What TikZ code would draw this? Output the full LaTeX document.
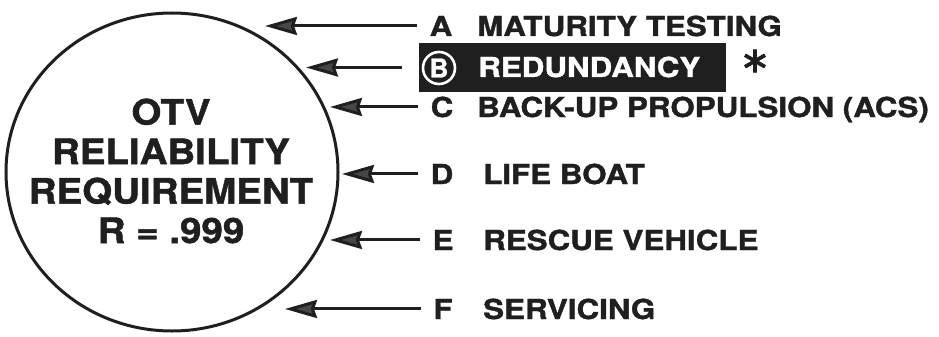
\documentclass[tikz,border=0pt]{standalone}
\usepackage{fontspec}
\setmainfont{TeX Gyre Heros}[BoldFeatures={FakeBold=1.2}]
\newfontfamily\astfont{DejaVu Sans}[FakeBold=2]
\usetikzlibrary{arrows.meta,shapes.geometric}
\definecolor{ink}{gray}{0.12}
\definecolor{headfill}{gray}{0.28}
\newcommand{\wide}[1]{\scalebox{1.14}[1]{#1}}
\newcommand{\widebig}[1]{\scalebox{1.1}[1]{#1}}
\begin{document}
\begin{tikzpicture}[x=1pt,y=-1pt,
  lbl/.style={anchor=base west,inner sep=0pt,text=ink,font=\fontsize{27.5}{30}\selectfont\bfseries},
  letter/.style={anchor=base,inner xsep=12pt,inner ysep=0pt,text=ink,font=\fontsize{27.5}{30}\selectfont\bfseries},
  arr/.style={draw=ink,line width=3pt,-{Stealth[length=32pt,width=18pt,inset=3pt,fill=headfill]}}]
\useasboundingbox (0,0) rectangle (939,337);
% central ellipse
\node[ellipse,draw=ink,line width=3pt,minimum width=332pt,minimum height=318pt,inner sep=0pt] (req) at (172,172) {};
\node[align=center,text=ink,inner sep=0pt,font=\fontsize{35}{39.5}\selectfont\bfseries] (reqtext) at (171,171)
  {\widebig{OTV}\\\widebig{RELIABILITY}\\\widebig{REQUIREMENT}\\\widebig{R = .999}};
% tip coordinates
\coordinate (tipA) at (265,0);
\coordinate (tipB) at (306,0);
\coordinate (tipC) at (330,0);
\coordinate (tipD) at (342,0);
\coordinate (tipE) at (330,0);
\coordinate (tipF) at (285,0);
% row A
\node[letter] (la) at (441,36) {\wide{A}};
\node[lbl] (ta) at (477,36) {\wide{MATURITY TESTING}};
% row B (highlighted)
\node[fill=ink,minimum width=307pt,minimum height=49pt,inner sep=0pt] (box) at (572.5,67.5) {};
\node[circle,draw=white,line width=2.6pt,minimum size=32pt,inner sep=0pt,text=white,font=\fontsize{26}{26}\selectfont\bfseries] (lb) at (439,68) {B};
\node[lbl,text=white] (tb) at (478,77) {\wide{REDUNDANCY}};
\node[text=ink,inner sep=0pt,font=\fontsize{36}{36}\astfont] (ast) at (755,61) {∗};
% row C
\node[letter] (lc) at (442,117) {\wide{C}};
\node[lbl] (tc) at (477,117) {\wide{BACK-UP PROPULSION (ACS)}};
% row D
\node[letter] (ld) at (442,184) {\wide{D}};
\node[lbl] (td) at (483,184) {\wide{LIFE BOAT}};
% row E
\node[letter] (le) at (443,250) {\wide{E}};
\node[lbl] (te) at (483,250) {\wide{RESCUE VEHICLE}};
% row F
\node[letter] (lf) at (443,319) {\wide{F}};
\node[lbl] (tf) at (483,319) {\wide{SERVICING}};
% arrows
\draw[arr] (la.west) -- (la.west -| tipA);
\draw[arr,shorten <=17pt] (box.west) -- (box.west -| tipB);
\draw[arr] (lc.west) -- (lc.west -| tipC);
\draw[arr] (ld.west) -- (ld.west -| tipD);
\draw[arr] (le.west) -- (le.west -| tipE);
\draw[arr] (lf.west) -- (lf.west -| tipF);
\end{tikzpicture}
\end{document}
